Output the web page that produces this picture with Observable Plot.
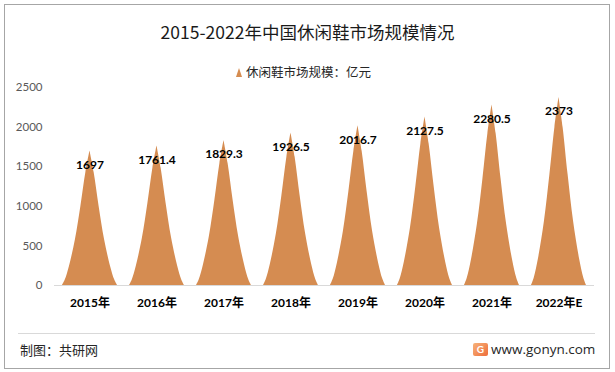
<!DOCTYPE html>
<html>
<head>
<meta charset="utf-8">
<script src="https://cdn.jsdelivr.net/npm/d3@7"></script>
<script src="https://cdn.jsdelivr.net/npm/@observablehq/plot@0.6"></script>
<style>
  html, body { margin: 0; padding: 0; background: #fff; }
  #wrap { position: relative; width: 615px; height: 372px; overflow: hidden; background: #fff;
          font-family: Lato, "Noto Sans CJK SC", sans-serif; }
  #border { position: absolute; left: 4px; top: 4px; width: 604px; height: 363px; border: 1px solid #a6a6a6; box-sizing: content-box; }
  #title { position: absolute; left: 0; width: 615px; top: 20px; text-align: center; font-size: 17.5px; color: #1a1a1a;
           font-family: "Noto Sans CJK SC", sans-serif; line-height: 24px; }
  #legend { position: absolute; left: 236px; top: 63px; font-size: 12.5px; color: #262626; line-height: 18px;
            font-family: "Noto Sans CJK SC", sans-serif; display: flex; align-items: center; }
  #legend .tri { width: 0; height: 0; border-left: 3.5px solid transparent; border-right: 3.5px solid transparent;
                 border-bottom: 9px solid #D58C51; margin-right: 4px; margin-top: 1px; }
  #chart { position: absolute; left: 0; top: 80px; }
  #sep { position: absolute; left: 18px; width: 577px; top: 333px; height: 1px; background: #d9d9d9; }
  #credit { position: absolute; left: 20px; top: 341px; font-size: 13px; color: #262626; line-height: 18px;
            font-family: "Noto Sans CJK SC", sans-serif; }
  #logo { position: absolute; left: 473px; top: 343px; width: 15px; height: 13px; border-radius: 2px;
          background: linear-gradient(135deg, #f7b27a, #ee6d3a); color: #fff; font: bold 10px Lato, sans-serif;
          text-align: center; line-height: 13px; }
  #site { position: absolute; left: 491px; top: 340px; font-size: 13.5px; color: #262626; line-height: 18px;
          font-family: "Open Sans", sans-serif; }
  #chart g[aria-label="x-axis tick label"] text { fill: #000; }
</style>
</head>
<body>
<div id="wrap">
  <div id="border"></div>
  <div id="title">2015-2022年中国休闲鞋市场规模情况</div>
  <div id="legend"><span class="tri"></span><span>休闲鞋市场规模：亿元</span></div>
  <div id="chart"></div>
  <div id="sep"></div>
  <div id="credit">制图：共研网</div>
  <div id="logo">G</div>
  <div id="site">www.gonyn.com</div>
</div>
<script>
const years = ["2015年", "2016年", "2017年", "2018年", "2019年", "2020年", "2021年", "2022年E"];
const values = [1697, 1761.4, 1829.3, 1926.5, 2016.7, 2127.5, 2280.5, 2373];
const valueLabels = ["1697", "1761.4", "1829.3", "1926.5", "2016.7", "2127.5", "2280.5", "2373"];
const yTicks = [0, 500, 1000, 1500, 2000, 2500];

const data = years.map((year, i) => ({year, value: values[i], label: valueLabels[i]}));

const chart = Plot.plot({
  width: 615,
  height: 240,
  marginLeft: 54,
  marginRight: 21,
  marginTop: 7,
  marginBottom: 35,
  style: {fontFamily: 'Lato, "Noto Sans CJK SC", sans-serif', fontSize: "11.5px", color: "#595959", background: "transparent"},
  x: {domain: years, paddingInner: 0.18, paddingOuter: 0.09, label: null},
  y: {domain: [0, 2500], label: null},
  marks: [
    Plot.barY(data, {x: "year", y: "value", fill: "#D58C51"}),
    Plot.ruleY([0], {stroke: "#d9d9d9", strokeWidth: 1}),
    Plot.text(data, {x: "year", y: "value", text: "label", dy: 14, fill: "#000", fontWeight: "bold", fontSize: 12}),
    Plot.axisX({tickSize: 0, tickPadding: 13, fontWeight: "bold", fontSize: 12, label: null}),
    Plot.axisY({ticks: yTicks, tickFormat: d => String(d), tickSize: 0, tickPadding: 12, label: null, fontSize: 11.5})
  ]
});

// Turn each bar rectangle into a pointed "peak" shape, keeping its scaled geometry.
// Profile: (half-width fraction, height fraction) from base to tip.
const profile = [[1, 0], [0.9, 0.04], [0.75, 0.14], [0.53, 0.34], [0.33, 0.59], [0.15, 0.84], [0, 1]];
const curve = d3.line().curve(d3.curveCatmullRom.alpha(0.5));
chart.querySelectorAll('g[aria-label="bar"] rect').forEach(r => {
  const x = +r.getAttribute("x"), y = +r.getAttribute("y");
  const w = +r.getAttribute("width"), h = +r.getAttribute("height");
  const cx = x + w / 2, hw = w / 2, yb = y + h;
  const left = profile.map(([o, f]) => [cx - o * hw, yb - f * h]);
  const right = profile.slice().reverse().map(([o, f]) => [cx + o * hw, yb - f * h]);
  const d = curve(left) + "L" + curve(right).slice(1) + "Z";
  const p = document.createElementNS("http://www.w3.org/2000/svg", "path");
  p.setAttribute("d", d);
  r.replaceWith(p);
});

document.getElementById("chart").appendChild(chart);
</script>
</body>
</html>
